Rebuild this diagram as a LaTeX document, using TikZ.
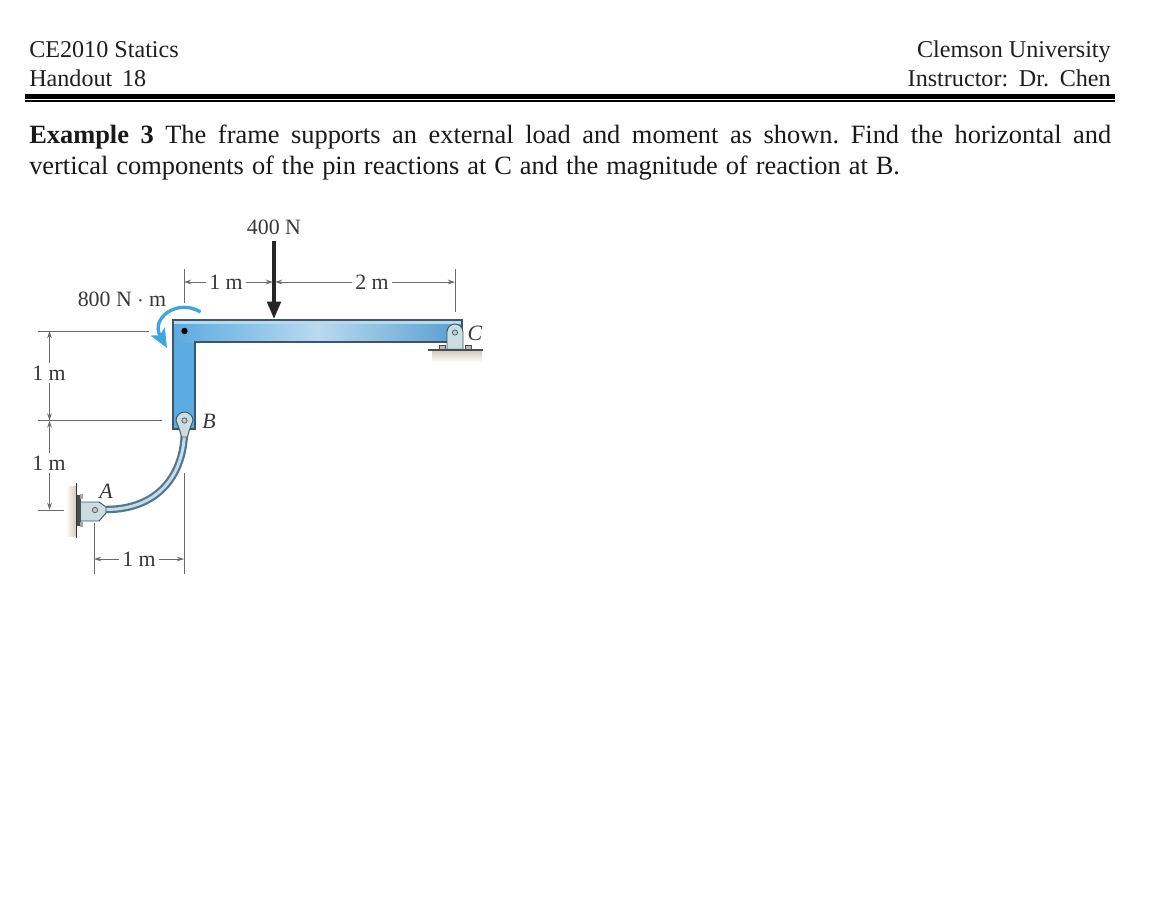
\documentclass[tikz,border=0pt]{standalone}
\usepackage{fontspec}
\setmainfont{Liberation Serif}
\usetikzlibrary{arrows.meta}
\definecolor{framedark}{HTML}{3D5568}
\definecolor{frameblue}{HTML}{5BAAE0}
\definecolor{framelight}{HTML}{B8DAF0}
\definecolor{momentblue}{HTML}{3FA5E0}
\definecolor{barblue}{HTML}{56788F}
\definecolor{barlight}{HTML}{C6DCEA}
\definecolor{lugpale}{HTML}{CBDDDF}
\definecolor{dimgray}{HTML}{6A6A6A}
\definecolor{shadowtan}{HTML}{D2CCBC}
\tikzset{
  x=0.75pt,y=-0.75pt,
  headtext/.style={anchor=base west,inner sep=0pt,font=\fontsize{18.1}{21}\selectfont,text=black!88},
  headright/.style={anchor=base east,inner sep=0pt,font=\fontsize{18.1}{21}\selectfont,text=black!88},
  bodytext/.style={anchor=base west,inner sep=0pt,font=\fontsize{19.8}{23}\selectfont,text=black!90},
  dimlabel/.style={inner sep=2pt,font=\fontsize{16.4}{19}\selectfont,text=black!78},
  partlabel/.style={inner sep=0pt,font=\fontsize{16.4}{19}\selectfont\itshape,text=black!78},
  dimline/.style={draw=dimgray,line width=0.7pt},
  dimarrow/.style={dimline,-{Stealth[length=5.5pt,width=3.6pt]}},
  rimline/.style={draw=framedark,line width=0.8pt},
  lug/.style={fill=lugpale,draw=framedark,line width=0.7pt},
  pinhole/.style={circle,fill=gray!45,draw=framedark,line width=0.5pt,minimum size=4pt,inner sep=0pt},
}
\frenchspacing
\begin{document}
\begin{tikzpicture}
\useasboundingbox (0,0) rectangle (1170,918);
\fill[white] (0,0) rectangle (1170,918);
% header
\node[headtext] (course) at (29,57) {CE2010 Statics};
\node[headtext] (handout) at (29,86) {\makebox[87.75pt][s]{Handout 18}};
\node[headright] (school) at (1111,57) {Clemson University};
\node[headright] (instr) at (1111,86) {\makebox[152.25pt][s]{Instructor: Dr. Chen}};
\fill[black] (25,94) rectangle (1115,99);
\fill[black] (25,100.2) rectangle (1115,101.8);
\node[bodytext] (line1) at (29,143) {\makebox[811.5pt][s]{\textbf{Example 3} The frame supports an external load and moment as shown. Find the horizontal and}};
\node[bodytext] (line2) at (29,174) {\makebox[653pt][s]{vertical components of the pin reactions at C and the magnitude of reaction at B.}};
% shadows
\shade[left color=white,right color=shadowtan] (66,486) rectangle (76,536);
\shade[top color=shadowtan,bottom color=white] (432,351) rectangle (482,362);
% frame
\fill[frameblue] (173,320) rectangle (195,429);
\shade[left color=frameblue,right color=framelight] (173,320) rectangle (318,342);
\shade[left color=framelight,right color=frameblue!85!framedark] (318,320) rectangle (462,342);
\fill[framelight] (174,321) rectangle (461,323.5);
\draw[rimline] (173,429) -- (173,320) -- (462,320) -- (462,342) -- (195,342) -- (195,429) -- cycle;
\fill[black] (184.5,331) circle (3.2);
% curved bar A-B
\draw[barblue,line width=5.6pt] (184.5,428) .. controls (185,475) and (158,509.5) .. (106,509.5);
\draw[barlight,line width=2.2pt] (184.5,428) .. controls (185,475) and (158,509.5) .. (106,509.5);
% B lug
\filldraw[lug] (176,420.5) arc (180:360:8.5) -- (189,431) -- (187.5,437) -- (181.5,437) -- (180,431) -- cycle;
\node[pinhole] (pinB) at (184.5,420.5) {};
\node[partlabel] (labB) at (209,421) {B};
% A support
\draw[black!80,line width=1.1pt] (76.5,483) -- (76.5,538);
\fill[black!70] (77,495) rectangle (80.5,526);
\fill[gray!70] (80,494) rectangle (83,499);
\fill[gray!70] (80,522) rectangle (83,527);
\filldraw[lug] (80.5,502) -- (99,502) -- (106,507) -- (106,513) -- (99,521) -- (80.5,521) -- cycle;
\node[pinhole] (pinA) at (95,510) {};
\node[partlabel] (labA) at (106,491.5) {A};
% C support
\fill[black!70] (428,349.4) rectangle (483,351.2);
\filldraw[fill=gray!55,draw=black!70,line width=0.4pt] (439,345.5) rectangle (445,349.4);
\filldraw[fill=gray!55,draw=black!70,line width=0.4pt] (465,345.5) rectangle (471,349.4);
\filldraw[lug] (447,349.4) -- (447,332) arc (180:360:8) -- (463,349.4) -- cycle;
\node[pinhole] (pinC) at (455,332.5) {};
\node[partlabel] (labC) at (475,333) {C};
% moment
\coordinate (momStart) at (200.5,312);
\coordinate (momEnd) at (167,348);
\draw[momentblue,line width=2.5pt,-{Stealth[length=14pt,width=12pt,inset=3pt]}] (momStart) .. controls (178,298) and (150,318) .. (momEnd);
\node[dimlabel] (mom) at (122,299) {800 N $\cdot$ m};
% force
\node[dimlabel] (force) at (274,227) {400 N};
\coordinate (fTop) at (274,241);
\coordinate (fTip) at (274,319);
\draw[black!85,line width=2.8pt,-{Stealth[length=13pt,width=10pt,inset=0pt]}] (fTop) -- (fTip);
% extension lines
\coordinate (t1a) at (184,269); \coordinate (t1b) at (184,303);
\coordinate (t2a) at (455,269); \coordinate (t2b) at (455,312);
\draw[dimline] (t1a) -- (t1b);
\draw[dimline] (t2a) -- (t2b);
\coordinate (h1a) at (38,331); \coordinate (h1b) at (149,331);
\coordinate (h2a) at (38,420.5); \coordinate (h2b) at (162,420.5);
\coordinate (h3a) at (38,510); \coordinate (h3b) at (64,510);
\draw[dimline] (h1a) -- (h1b);
\draw[dimline] (h2a) -- (h2b);
\draw[dimline] (h3a) -- (h3b);
\coordinate (b1a) at (94,523); \coordinate (b1b) at (94,574);
\coordinate (b2a) at (184,473); \coordinate (b2b) at (184,574);
\draw[dimline] (b1a) -- (b1b);
\draw[dimline] (b2a) -- (b2b);
% horizontal dimensions, top
\node[dimlabel] (d1) at (226,282) {1 m};
\node[dimlabel] (d2) at (372,282) {2 m};
\coordinate (d1l) at (184,282.5); \coordinate (d1r) at (273,282.5);
\coordinate (d2l) at (275,282.5); \coordinate (d2r) at (455,282.5);
\draw[dimarrow] (d1.west) -- (d1.west-|d1l);
\draw[dimarrow] (d1.east) -- (d1.east-|d1r);
\draw[dimarrow] (d2.west) -- (d2.west-|d2l);
\draw[dimarrow] (d2.east) -- (d2.east-|d2r);
% vertical dimensions, left
\node[dimlabel] (d3) at (49,373) {1 m};
\node[dimlabel] (d4) at (49,463) {1 m};
\coordinate (v1) at (49.5,331); \coordinate (v2a) at (49.5,420.5); \coordinate (v3) at (49.5,510);
\draw[dimarrow] (d3.north-|v1) -- (v1);
\draw[dimarrow] (d3.south-|v1) -- (v2a);
\draw[dimarrow] (d4.north-|v1) -- (v2a);
\draw[dimarrow] (d4.south-|v1) -- (v3);
% horizontal dimension, bottom
\node[dimlabel] (d5) at (139,559) {1 m};
\coordinate (w1) at (94,559); \coordinate (w2) at (184,559);
\draw[dimarrow] (d5.west) -- (d5.west-|w1);
\draw[dimarrow] (d5.east) -- (d5.east-|w2);
\end{tikzpicture}
\end{document}
